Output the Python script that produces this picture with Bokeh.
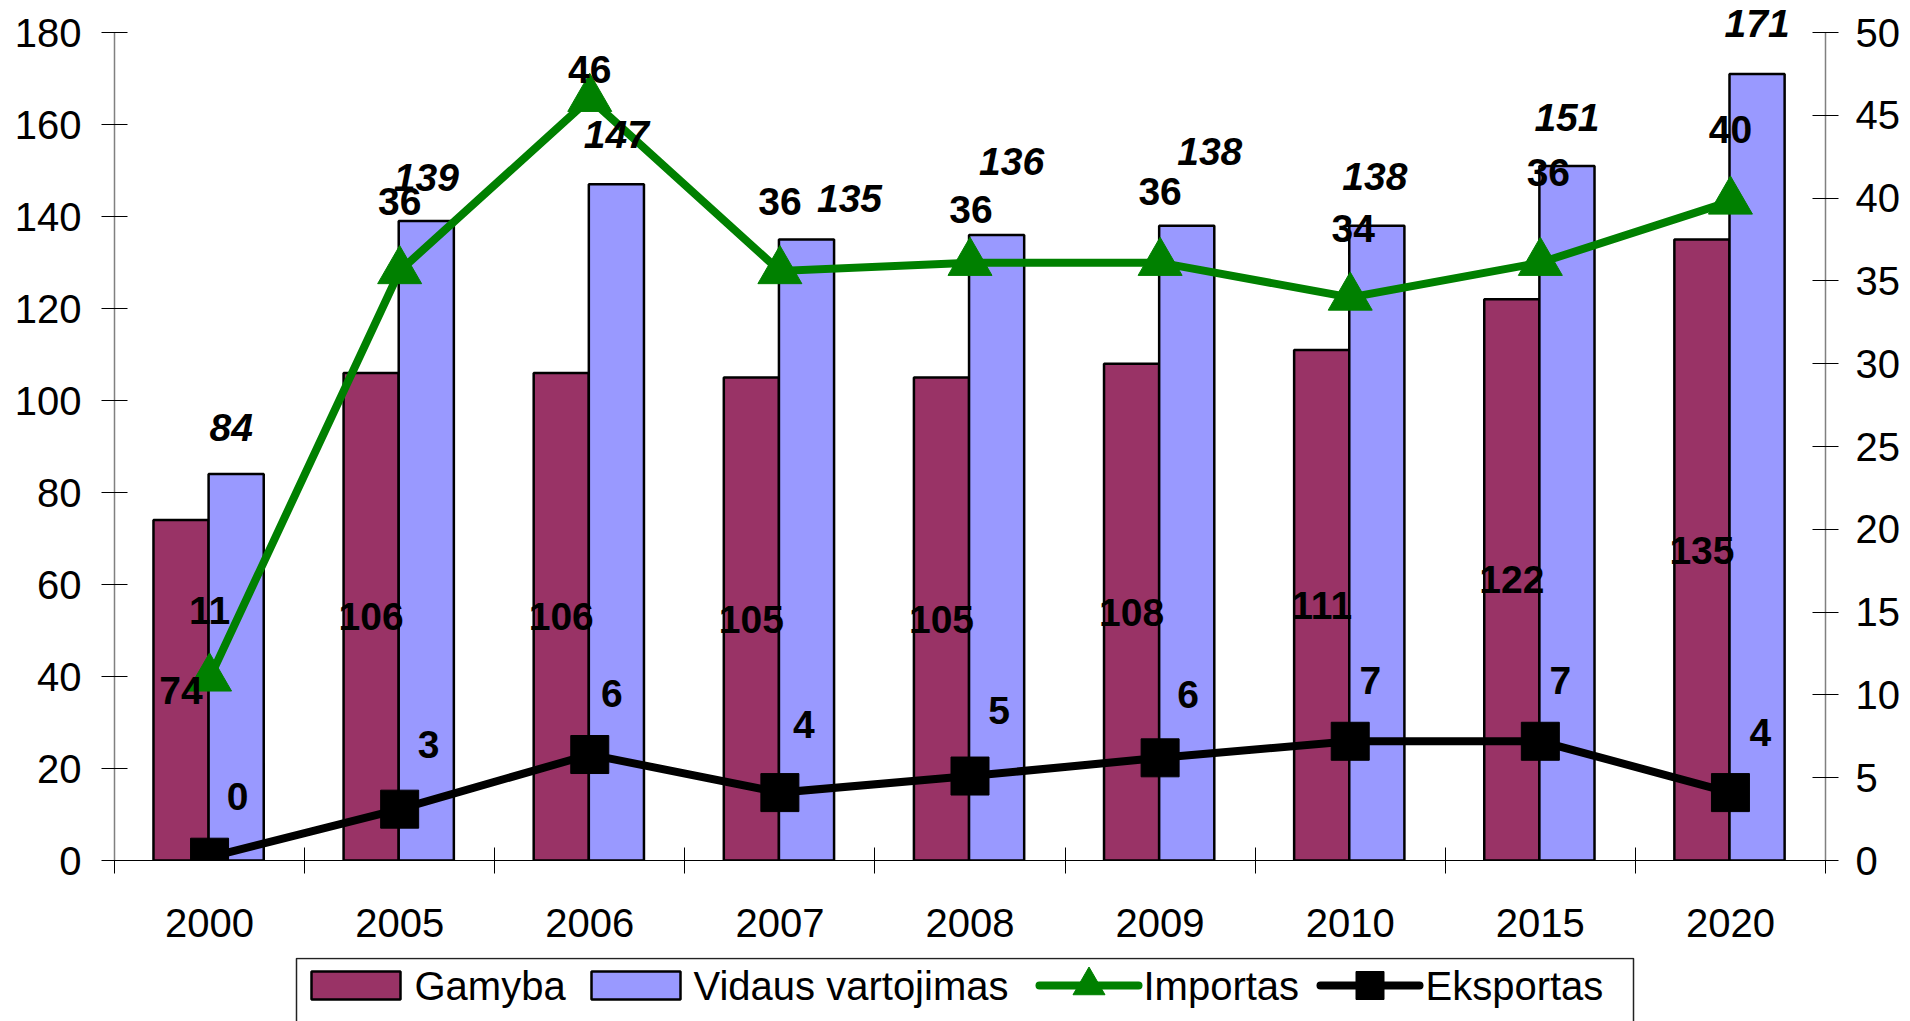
import numpy as np
from bokeh.plotting import figure
from bokeh.models import ColumnDataSource, Range1d, LinearAxis, FixedTicker
from bokeh.layouts import column
from bokeh.embed import file_html
from bokeh.resources import INLINE
from bokeh.core.properties import value

# ---------------- data ----------------
years = ["2000", "2005", "2006", "2007", "2008", "2009", "2010", "2015", "2020"]
gamyba = [74, 106, 106, 105, 105, 108, 111, 122, 135]
vidaus = [84, 139, 147, 135, 136, 138, 138, 151, 171]
importas = [11, 35.6, 46, 35.6, 36.1, 36.1, 34, 36.1, 39.8]
eksportas = [0.2, 3.1, 6.4, 4.1, 5.1, 6.2, 7.2, 7.2, 4.1]
left_ticks = list(range(0, 181, 20))
right_ticks = list(range(0, 51, 5))
legend_labels = ["Gamyba", "Vidaus vartojimas", "Importas", "Eksportas"]

# label offsets in screen pixels (placement of the value labels)
vid_dx = [-5, 0, 0, 43, 15, 23, -2, 0, 0]
vid_dy = [47, 44, 50, 41, 73, 74, 49, 48, 50]
imp_dx = [0, 0, 0, 0, 1, 0, 3, 8, 0]
imp_dy = [68, 69, 29, 69, 53, 71, 69, 90, 72]
eks_dx = [28, 29, 22, 24, 29, 28, 20, 20, 30]
eks_dy = [61, 65, 61, 68, 66, 63, 61, 61, 60]

# ---------------- styling ----------------
FONT = "Liberation Sans"
C_GAM = "#993366"
C_VID = "#9999FF"
C_IMP = "#008000"
C_EKS = "#000000"

W = 1910
BL, BR = 114, 85          # borders around the plotting frame
MAIN_H = 957
FRAME_H = 860
LMAX = 180.0
PX_PER_UNIT = 828.0 / LMAX
l_end = FRAME_H / PX_PER_UNIT
r_end = 50.0 * l_end / LMAX

n = len(years)
centers = list(np.arange(n) + 0.5)

p = figure(width=W, height=MAIN_H,
           x_range=Range1d(0, n), y_range=Range1d(0, l_end),
           output_backend="svg", toolbar_location=None,
           min_border_left=BL, min_border_right=BR,
           min_border_top=0, min_border_bottom=MAIN_H - FRAME_H,
           outline_line_color=None, background_fill_color="white")
p.xgrid.visible = False
p.ygrid.visible = False
p.extra_y_ranges = {"r": Range1d(0, r_end)}

def style_axis(ax):
    ax.major_label_text_font = FONT
    ax.major_label_text_font_size = "40px"
    ax.major_label_text_color = "black"
    ax.major_tick_line_color = "black"
    ax.major_tick_line_width = 1
    ax.minor_tick_line_color = None

# x axis: labels at centres, ticks at category boundaries
xa = p.xaxis[0]
xa.ticker = FixedTicker(ticks=centers, minor_ticks=list(range(n + 1)))
xa.major_label_overrides = {c: y for c, y in zip(centers, years)}
style_axis(xa)
xa.major_tick_in = 0
xa.major_tick_out = 0
xa.minor_tick_line_color = "black"
xa.minor_tick_in = 13
xa.minor_tick_out = 13
xa.axis_line_color = "black"
xa.axis_line_width = 1.2
xa.major_label_standoff = 35

ya = p.yaxis[0]
ya.ticker = FixedTicker(ticks=left_ticks)
ya.bounds = (0, LMAX)
style_axis(ya)
ya.major_tick_in = 13
ya.major_tick_out = 13
ya.axis_line_color = "#808080"
ya.axis_line_width = 1.5
ya.major_label_standoff = 20

ra = LinearAxis(y_range_name="r", ticker=FixedTicker(ticks=right_ticks), bounds=(0, 50))
style_axis(ra)
ra.major_tick_in = 13
ra.major_tick_out = 13
ra.axis_line_color = "#808080"
ra.axis_line_width = 1.5
ra.major_label_standoff = 17
p.add_layout(ra, "right")

src = ColumnDataSource(dict(
    xg=[c - 0.15 for c in centers], xv=[c + 0.14 for c in centers],
    xc=centers, g=gamyba, v=vidaus, imp=importas, eks=eksportas,
    g_half=[g / 2 for g in gamyba],
    g_txt=[str(g) for g in gamyba], v_txt=[str(v) for v in vidaus],
    imp_txt=["%d" % round(v) for v in importas],
    eks_txt=["%d" % round(v) for v in eksportas],
    vid_dx=vid_dx, vid_dy=[-d for d in vid_dy],
    imp_dx=imp_dx, imp_dy=[-d for d in imp_dy],
    eks_dx=eks_dx, eks_dy=[-d for d in eks_dy],
))

# bars
p.vbar(x="xg", top="g", bottom=0, width=0.29, source=src,
       fill_color=C_GAM, line_color="black", line_width=2.5)
p.vbar(x="xv", top="v", bottom=0, width=0.29, source=src,
       fill_color=C_VID, line_color="black", line_width=2.5)

# lines
p.line(x="xc", y="imp", source=src, y_range_name="r",
       line_color=C_IMP, line_width=8, line_join="miter")
p.scatter(x="xc", y="imp", source=src, y_range_name="r", marker="triangle",
          size=44, fill_color=C_IMP, line_color=C_IMP, line_width=1)
p.line(x="xc", y="eks", source=src, y_range_name="r",
       line_color=C_EKS, line_width=8, line_join="miter")
p.scatter(x="xc", y="eks", source=src, y_range_name="r", marker="square",
          size=38, fill_color=C_EKS, line_color=C_EKS, line_width=1)

common = dict(text_font=value(FONT), text_font_size=value("39px"),
              text_color="black", text_align="center", text_baseline="middle")
p.text(x="xg", y="g_half", text="g_txt", source=src,
       text_font_style=value("bold"), **common)
p.text(x="xv", y="v", text="v_txt", source=src, x_offset="vid_dx", y_offset="vid_dy",
       text_font_style=value("bold italic"), **common)
p.text(x="xc", y="imp", text="imp_txt", source=src, y_range_name="r",
       x_offset="imp_dx", y_offset="imp_dy",
       text_font_style=value("bold"), **common)
p.text(x="xc", y="eks", text="eks_txt", source=src, y_range_name="r",
       x_offset="eks_dx", y_offset="eks_dy",
       text_font_style=value("bold"), **common)

# ---------------- legend (its own panel, same frame edges as the chart) ----------------
FW = W - BL - BR
LH = 1021 - MAIN_H
lg = figure(width=W, height=LH, x_range=Range1d(0, FW), y_range=Range1d(0, LH),
            output_backend="svg", toolbar_location=None,
            x_axis_location=None, y_axis_location=None,
            min_border_left=BL, min_border_right=BR,
            min_border_top=0, min_border_bottom=0,
            outline_line_color=None, background_fill_color="white")
lg.grid.visible = False
cy = 36
lg.quad(left=[182], right=[1519], bottom=[-10], top=[63],
        fill_color=None, line_color="#222222", line_width=1.5)
lg.quad(left=[197, 477], right=[286, 566], bottom=[cy - 14] * 2, top=[cy + 14] * 2,
        fill_color=[C_GAM, C_VID], line_color="black", line_width=2.5)
lg.line(x=[925, 1024], y=[cy, cy], line_color=C_IMP, line_width=8, line_cap="round")
lg.scatter(x=[974.5], y=[cy], marker="triangle", size=32,
           fill_color=C_IMP, line_color=C_IMP)
lg.line(x=[1206, 1305], y=[cy, cy], line_color=C_EKS, line_width=8, line_cap="round")
lg.scatter(x=[1255.5], y=[cy], marker="square", size=28,
           fill_color=C_EKS, line_color=C_EKS)
lg.text(x=[300, 579, 1029, 1311], y=[cy] * 4, text=legend_labels,
        text_font=value(FONT), text_font_size=value("40px"), text_color="black",
        text_align="left", text_baseline="middle")

layout = column(p, lg, spacing=0)
open("out.html", "w").write(file_html(layout, INLINE))
